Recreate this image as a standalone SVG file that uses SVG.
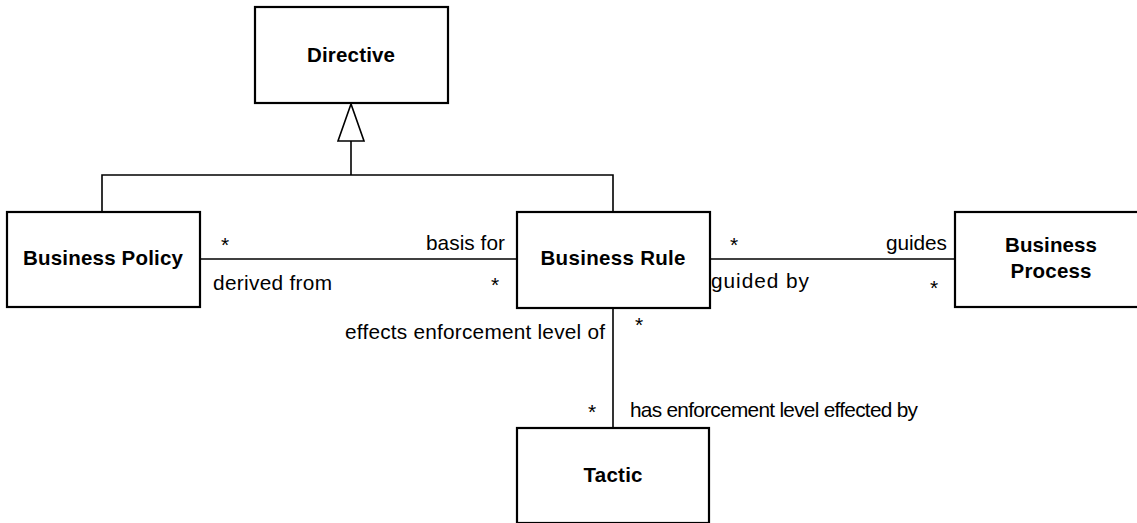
<svg xmlns="http://www.w3.org/2000/svg" width="1137" height="523" viewBox="0 0 1137 523">
  <style>
    .box { fill: #ffffff; stroke: #000000; stroke-width: 2.2; }
    .name { font-family: "Liberation Sans", Arial, sans-serif; font-weight: bold; font-size: 20.5px; fill: #000000; text-anchor: middle; }
    .lbl { font-family: "Liberation Sans", Arial, sans-serif; font-size: 20.8px; fill: #000000; }
    .mult { font-family: "Liberation Sans", Arial, sans-serif; font-size: 21px; fill: #000000; text-anchor: middle; }
    .wire { fill: none; stroke: #000000; stroke-width: 1.6; }
  </style>

  <!-- connectors: generalization tree and associations -->
  <g id="connectors">
    <path class="wire" d="M102,212 V175 H613 V212"/>
    <path class="wire" d="M351,175 V141"/>
    <polygon points="351,104 338,141 364,141" fill="#ffffff" stroke="#000000" stroke-width="1.6"/>
    <line class="wire" x1="200" y1="259" x2="517" y2="259"/>
    <line class="wire" x1="710" y1="259" x2="955" y2="259"/>
    <line class="wire" x1="613" y1="308" x2="613" y2="428"/>

    <!-- Business Policy / Business Rule -->
    <text class="mult" x="225" y="252">*</text>
    <text class="lbl" x="426" y="250" textLength="79" lengthAdjust="spacing">basis for</text>
    <text class="lbl" x="213" y="290" textLength="119" lengthAdjust="spacing">derived from</text>
    <text class="mult" x="495" y="292">*</text>

    <!-- Business Rule / Business Process -->
    <text class="mult" x="734" y="252">*</text>
    <text class="lbl" x="886" y="250" textLength="61" lengthAdjust="spacing">guides</text>
    <text class="lbl" x="711" y="288" textLength="98" lengthAdjust="spacing">guided by</text>
    <text class="mult" x="934" y="295">*</text>

    <!-- Business Rule / Tactic -->
    <text class="lbl" x="345" y="339" textLength="260" lengthAdjust="spacing">effects enforcement level of</text>
    <text class="mult" x="639" y="332">*</text>
    <text class="mult" x="592" y="419">*</text>
    <text class="lbl" x="630" y="417" textLength="288" lengthAdjust="spacing">has enforcement level effected by</text>
  </g>

  <g id="directive">
    <rect class="box" x="255" y="7" width="193" height="96"/>
    <text class="name" x="351" y="62" textLength="88" lengthAdjust="spacing">Directive</text>
  </g>

  <g id="business-policy">
    <rect class="box" x="7" y="212" width="193" height="95"/>
    <text class="name" x="103" y="265" textLength="160" lengthAdjust="spacing">Business Policy</text>
  </g>

  <g id="business-rule">
    <rect class="box" x="517" y="212" width="193" height="96"/>
    <text class="name" x="613" y="265" textLength="145" lengthAdjust="spacing">Business Rule</text>
  </g>

  <g id="business-process">
    <rect class="box" x="955" y="212" width="193" height="95"/>
    <text class="name" x="1051" y="252" textLength="92" lengthAdjust="spacing">Business</text>
    <text class="name" x="1051" y="278" textLength="81" lengthAdjust="spacing">Process</text>
  </g>

  <g id="tactic">
    <rect class="box" x="517" y="428" width="192" height="95"/>
    <text class="name" x="613" y="482" textLength="59" lengthAdjust="spacing">Tactic</text>
  </g>
</svg>
